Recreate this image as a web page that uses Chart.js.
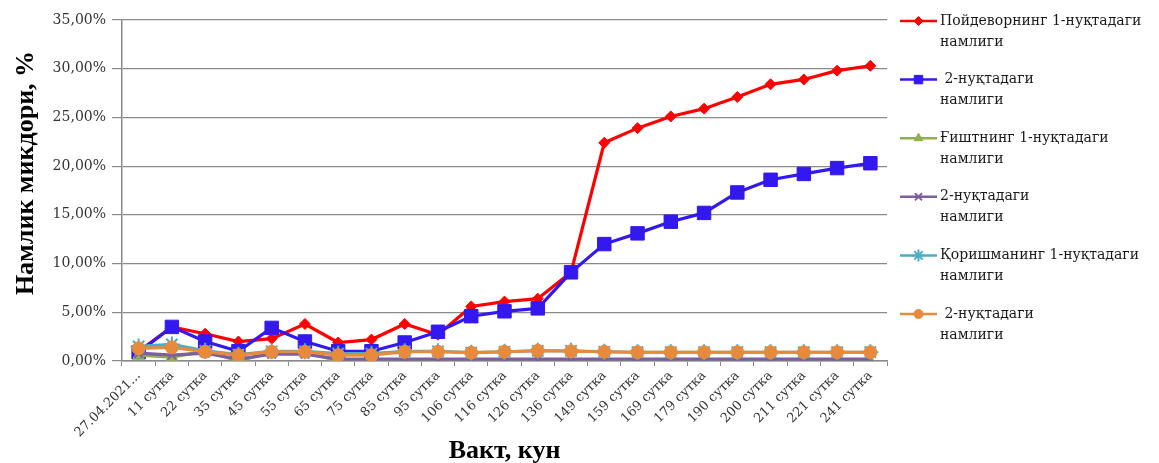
<!DOCTYPE html>
<html>
<head>
<meta charset="utf-8">
<script src="https://cdn.jsdelivr.net/npm/chart.js@4"></script>
<style>
  html, body { margin: 0; padding: 0; background: #ffffff; }
  #wrap { width: 1159px; height: 463px; position: relative; }
</style>
</head>
<body>
<div id="wrap"><canvas id="c" width="1159" height="463"></canvas></div>
<script>
// Moisture readings (%) over time at the measurement points
const categories = ['27.04.2021...', '11 сутка', '22 сутка', '35 сутка', '45 сутка', '55 сутка',
  '65 сутка', '75 сутка', '85 сутка', '95 сутка', '106 сутка', '116 сутка', '126 сутка',
  '136 сутка', '149 сутка', '159 сутка', '169 сутка', '179 сутка', '190 сутка', '200 сутка',
  '211 сутка', '221 сутка', '241 сутка'];

const foundationPoint1 = [1.0, 3.5, 2.8, 2.0, 2.3, 3.8, 1.9, 2.2, 3.8, 2.7, 5.6, 6.1, 6.4,
  9.1, 22.4, 23.9, 25.1, 25.9, 27.1, 28.4, 28.9, 29.8, 30.3];
const foundationPoint2 = [0.9, 3.5, 2.0, 1.0, 3.4, 2.0, 1.0, 1.0, 1.9, 3.0, 4.6, 5.1, 5.4,
  9.1, 12.0, 13.1, 14.3, 15.2, 17.3, 18.6, 19.2, 19.8, 20.3];
const brickPoint1 = [0.6, 0.4, 1.0, 0.0, 0.9, 0.9, 0.0, 0.0, 0.0, 0.0, 0.0, 0.0, 0.0,
  0.0, 0.0, 0.0, 0.0, 0.0, 0.0, 0.0, 0.0, 0.0, 0.0];
const brickPoint2 = [0.8, 0.6, 0.8, 0.2, 0.7, 0.7, 0.2, 0.2, 0.2, 0.2, 0.2, 0.2, 0.2,
  0.2, 0.2, 0.2, 0.2, 0.2, 0.2, 0.2, 0.2, 0.2, 0.2];
const mortarPoint1 = [1.5, 1.7, 1.05, 0.65, 1.0, 1.0, 0.75, 0.75, 1.0, 1.0, 0.85, 0.95, 1.05,
  1.05, 0.95, 0.9, 0.9, 0.9, 0.9, 0.9, 0.9, 0.9, 0.9];
const mortarPoint2 = [1.3, 1.4, 0.95, 0.6, 0.95, 0.95, 0.6, 0.6, 0.95, 0.95, 0.85, 0.95, 1.05,
  1.0, 0.95, 0.9, 0.9, 0.9, 0.9, 0.9, 0.9, 0.9, 0.9];

const yTicks = { min: 0, max: 35, step: 5 };

const legendLines = [
  ['Пойдеворнинг 1-нуқтадаги', 'намлиги'],
  [' 2-нуқтадаги', 'намлиги'],
  ['Ғиштнинг 1-нуқтадаги', 'намлиги'],
  ['2-нуқтадаги', 'намлиги'],
  ['Қоришманинг 1-нуқтадаги', 'намлиги'],
  [' 2-нуқтадаги', 'намлиги']
];

const yAxisTitle = 'Намлик микдори, %';
const xAxisTitle = 'Вакт, кун';

const serif = '"DejaVu Serif", "Liberation Serif", serif';
const titleFont = '"Liberation Serif", "Times New Roman", serif';

function series(data, color, style, radius, order, legendRadius) {
  return {
    data: data,
    borderColor: color,
    backgroundColor: color,
    pointBackgroundColor: color,
    pointBorderColor: color,
    pointStyle: style,
    pointRadius: radius,
    pointHoverRadius: radius,
    pointBorderWidth: style === 'crossRot' || style === 'star' ? 2 : 1,
    borderWidth: 3.2,
    tension: 0,
    order: order,
    legendRadius: legendRadius
  };
}

const datasets = [
  series(foundationPoint1, '#ff0000', 'rectRot', 5.5, 5, 4.5),
  series(foundationPoint2, '#3318f0', 'rect', 9.5, 4, 6),
  series(brickPoint1, '#8faf4f', 'triangle', 6.5, 3, 5),
  series(brickPoint2, '#7b5fa0', 'crossRot', 6, 2, 5),
  series(mortarPoint1, '#4bacc6', 'star', 8, 1, 6),
  series(mortarPoint2, '#e88a3c', 'circle', 6.5, 0, 4.5)
];

// Legend drawn at the right side, two text lines per entry
const sideLegend = {
  id: 'sideLegend',
  afterDraw(chart) {
    const ctx = chart.ctx;
    const x0 = 900, x1 = 937, tx = 940;
    const top = 21, gap = 58.6;
    ctx.save();
    chart.data.datasets.forEach((ds, i) => {
      const y = top + i * gap;
      ctx.strokeStyle = ds.borderColor;
      ctx.lineWidth = 2.5;
      ctx.beginPath();
      ctx.moveTo(x0, y);
      ctx.lineTo(x1, y);
      ctx.stroke();
      ctx.fillStyle = ds.borderColor;
      ctx.strokeStyle = ds.borderColor;
      ctx.lineWidth = ds.pointBorderWidth;
      Chart.helpers.drawPoint(ctx, {
        pointStyle: ds.pointStyle,
        radius: ds.legendRadius,
        borderWidth: ds.pointBorderWidth,
        rotation: 0
      }, (x0 + x1) / 2, y);
      ctx.fillStyle = '#1a1a1a';
      ctx.font = '14px ' + serif;
      ctx.textBaseline = 'middle';
      ctx.textAlign = 'left';
      ctx.fillText(legendLines[i][0], tx, y);
      ctx.fillText(legendLines[i][1], tx, y + 21);
    });
    ctx.restore();
  }
};

// Axis titles
const axisTitles = {
  id: 'axisTitles',
  afterDraw(chart) {
    const ctx = chart.ctx;
    const area = chart.chartArea;
    ctx.save();
    ctx.font = 'bold 26px ' + titleFont;
    ctx.fillStyle = '#000000';
    ctx.textAlign = 'center';
    ctx.textBaseline = 'middle';
    ctx.fillText(xAxisTitle, (area.left + area.right) / 2, 451);
    ctx.translate(26, 173);
    ctx.rotate(-Math.PI / 2);
    ctx.fillText(yAxisTitle, 0, 0);
    ctx.restore();
  }
};

new Chart(document.getElementById('c'), {
  type: 'line',
  data: { labels: categories, datasets: datasets },
  options: {
    responsive: false,
    animation: false,
    events: [],
    layout: { padding: { left: 0, right: 272, top: 20, bottom: 0 } },
    plugins: {
      legend: { display: false },
      tooltip: { enabled: false }
    },
    scales: {
      x: {
        offset: true,
        grid: {
          drawOnChartArea: false,
          drawTicks: true,
          tickLength: 5,
          color: '#8a8a8a',
          offset: true
        },
        border: { color: '#8a8a8a', width: 1.5 },
        ticks: {
          minRotation: 45,
          maxRotation: 45,
          autoSkip: false,
          padding: 2,
          color: '#333333',
          font: { family: serif, size: 13 }
        },
        afterFit(scale) { scale.height = 102; }
      },
      y: {
        min: yTicks.min,
        max: yTicks.max,
        grid: {
          color: '#8a8a8a',
          lineWidth: 1.2,
          tickLength: 10
        },
        border: { color: '#8a8a8a', width: 1.5 },
        ticks: {
          stepSize: yTicks.step,
          padding: 6,
          color: '#333333',
          font: { family: serif, size: 14 },
          callback: (v) => v.toFixed(2).replace('.', ',') + '%'
        },
        afterFit(scale) { scale.width = 122; }
      }
    }
  },
  plugins: [sideLegend, axisTitles]
});
</script>
</body>
</html>
